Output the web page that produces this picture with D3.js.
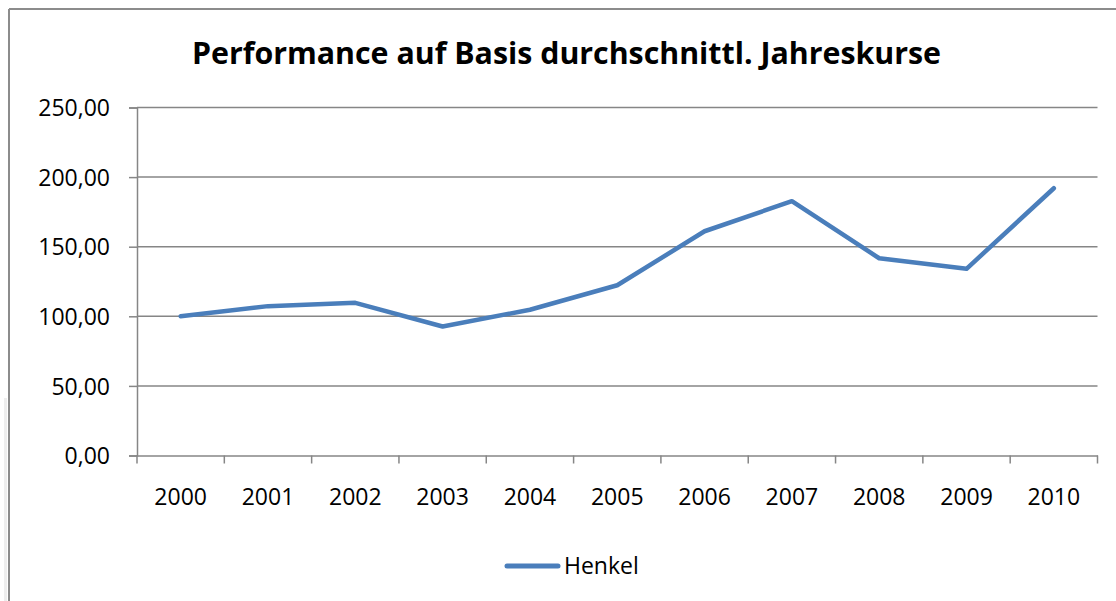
<!DOCTYPE html>
<html>
<head>
<meta charset="utf-8">
<script src="https://cdn.jsdelivr.net/npm/d3@7"></script>
<style>
  html,body{margin:0;padding:0;background:#fff;}
  svg text{font-family:"Open Sans","Noto Sans",sans-serif;fill:#000;}
</style>
</head>
<body>
<div id="chart"></div>
<script>
const jahre = ['2000','2001','2002','2003','2004','2005','2006','2007','2008','2009','2010'];
const henkel = [100.0, 107.3, 109.7, 92.7, 104.7, 122.3, 161.1, 182.7, 141.7, 134.1, 192.0];
const yTicks = [0, 50, 100, 150, 200, 250];
const titel = 'Performance auf Basis durchschnittl. Jahreskurse';
const serie = 'Henkel';

const W = 1116, H = 601;
const svg = d3.select('#chart').append('svg').attr('width', W).attr('height', H);

// Rahmen (nur oben und links sichtbar)
svg.append('rect').attr('x', 4).attr('y', 398).attr('width', 3).attr('height', H-398).attr('fill', '#eeeeee');
svg.append('line').attr('x1', 9).attr('x2', W).attr('y1', 9).attr('y2', 9).attr('stroke', '#8c8c8c').attr('stroke-width', 2);
svg.append('line').attr('x1', 9).attr('x2', 9).attr('y1', 9).attr('y2', H).attr('stroke', '#8c8c8c').attr('stroke-width', 2);

svg.append('text').attr('x', 192).attr('y', 64)
  .attr('textLength', 749).attr('lengthAdjust', 'spacingAndGlyphs')
  .style('font-size', '31px').style('font-weight', 'bold').text(titel);

const m = {l:137, r:1097.5, t:107.5, b:455.5};
const x = d3.scaleBand().domain(jahre).range([m.l, m.r]);
const y = d3.scaleLinear().domain([0, 250]).range([m.b, m.t]);

const g = svg.append('g');

// Gitternetz
g.selectAll('.grid').data(yTicks.filter(d=>d>0)).enter().append('line')
  .attr('x1', m.l).attr('x2', m.r).attr('y1', d=>y(d)).attr('y2', d=>y(d))
  .attr('stroke', '#868686').attr('stroke-width', 1.5);

// Y-Achse
const yAxis = g.append('g').attr('transform', `translate(${m.l},0)`)
  .call(d3.axisLeft(y).tickValues(yTicks).tickSize(8).tickPadding(19)
    .tickFormat(d=>d3.format('.2f')(d).replace('.', ',')));
yAxis.select('.domain').attr('stroke', '#868686').attr('stroke-width', 1.5);
yAxis.selectAll('.tick line').attr('stroke', '#868686').attr('stroke-width', 1.5);
yAxis.selectAll('.tick text').style('font-size', '23px').attr('dy', '0.36em');

// X-Achse mit Teilstrichen an den Kategoriegrenzen
const xAxis = g.append('g').attr('transform', `translate(0,${m.b})`)
  .call(d3.axisBottom(x).tickSize(0).tickPadding(33));
xAxis.select('.domain').attr('stroke', '#868686').attr('stroke-width', 1.5);
xAxis.selectAll('.tick text').style('font-size', '23px');
const grenzen = jahre.map(j=>x(j)).concat([x(jahre[jahre.length-1]) + x.bandwidth()]);
xAxis.selectAll('.xt').data(grenzen).enter().append('line')
  .attr('x1', d=>d).attr('x2', d=>d).attr('y1', 0).attr('y2', 8)
  .attr('stroke', '#868686').attr('stroke-width', 1.5);

// Linie
const linie = d3.line().x((d,i)=>x(jahre[i]) + x.bandwidth()/2).y(d=>y(d));
g.append('path').datum(henkel).attr('d', linie)
  .attr('fill', 'none').attr('stroke', '#4a7ebb').attr('stroke-width', 4.5)
  .attr('stroke-linejoin', 'round').attr('stroke-linecap', 'round');

// Legende
const lg = svg.append('g');
lg.append('line').attr('x1', 507).attr('x2', 558).attr('y1', 566).attr('y2', 566)
  .attr('stroke', '#4a7ebb').attr('stroke-width', 5).attr('stroke-linecap', 'round');
lg.append('text').attr('x', 564).attr('y', 574).style('font-size', '23px').text(serie);
</script>
</body>
</html>
